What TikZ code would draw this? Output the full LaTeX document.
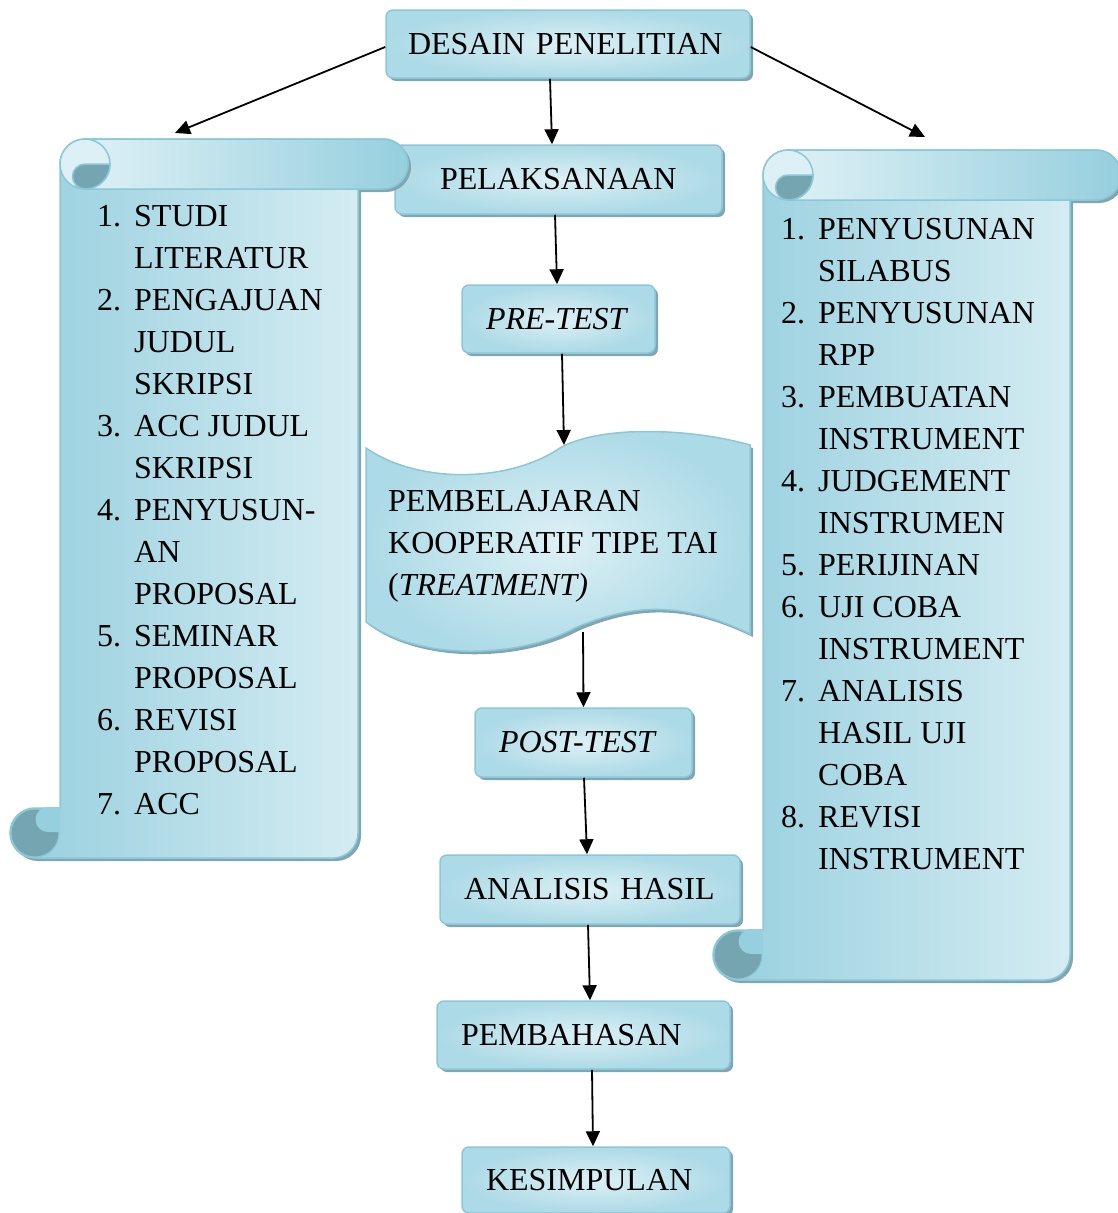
\documentclass[tikz,border=0pt]{standalone}
\usepackage{fontspec}
\setmainfont{Liberation Serif}
\usepackage{xcolor}
\usetikzlibrary{arrows.meta, shadows}
\definecolor{skylt}{RGB}{221,240,245}
\definecolor{skymid}{RGB}{172,218,230}
\definecolor{skydk}{RGB}{150,207,222}
\definecolor{skyline}{RGB}{139,199,215}
\definecolor{curl}{RGB}{116,165,176}
\definecolor{shade}{RGB}{128,166,178}

\newcommand{\bigfont}{\fontsize{32}{42}\selectfont}

% scroll: body left, body right, band top, bottom, band end
\newcommand{\drawscroll}[5]{%
  \draw[scrollline, left color=skydk, right color=skylt, dropshade]
    ({#1+25},{-#3}) -- ({#5-25},{-#3}) arc (90:-90:25) -- ({#2},{-#3-50})
    -- ({#2},{-#4+25}) arc (0:-90:25) -- ({#1-25},{-#4}) arc (-90:-270:25)
    -- ({#1},{-#4+50}) -- ({#1},{-#3-25}) arc (180:90:25) -- cycle;
  \draw[scrollline, left color=skylt, right color=skydk]
    ({#1+25},{-#3}) -- ({#5-25},{-#3}) arc (90:-90:25) -- ({#1+25},{-#3-50}) -- cycle;
  \draw[scrollline, fill=skylt] ({#1+25},{-#3-25}) circle (25);
  \draw[scrollline, fill=curl] ({#1+25},{-#3-25}) -- ({#1+50},{-#3-25})
    arc (0:-90:25) arc (270:90:12.5) -- cycle;
  \filldraw[curl, draw=skyline, line width=1pt] ({#1-25},{-#4+25}) circle (24);
  \fill[skydk] ({#1},{-#4+51}) -- ({#1-12},{-#4+51}) arc (90:270:12.5)
    -- ({#1},{-#4+26}) -- cycle;
}

\begin{document}
\begin{tikzpicture}[
    x=1pt, y=1pt,
    dropshade/.style={drop shadow={shadow xshift=3pt, shadow yshift=-3pt, fill=shade, opacity=1}},
    scrollline/.style={draw=skyline, line width=1.5pt},
    box/.style={rectangle, draw=skyline, line width=1.5pt, rounded corners=7pt, inner color=skylt, outer color=skymid, dropshade, align=left, inner xsep=24pt, inner ysep=0pt, minimum height=68pt, font=\bigfont},
    listtxt/.style={anchor=base west, inner sep=0pt, font=\bigfont},
    arr/.style={-{Triangle[length=15pt,width=14pt]}, line width=1.8pt, black}
]
    \useasboundingbox (0,0) rectangle (1118,-1213);

    % middle column
    \node[box, text width=320pt, inner xsep=22pt] (desain) at (568,-44) {DESAIN PENELITIAN};
    \node[box, text width=237pt, inner xsep=45pt, minimum height=69pt] (pelak) at (558.5,-179.5) {PELAKSANAAN};
    \node[box, text width=145pt] (pre) at (558.5,-319) {\textit{PRE-TEST}};
    \node[box, text width=169pt, minimum height=69pt] (post) at (583.5,-742.5) {\textit{POST-TEST}};
    \node[box, text width=252pt, minimum height=69pt] (analisis) at (590,-889.5) {ANALISIS HASIL};
    \node[box, text width=245pt] (pemb) at (583.5,-1035) {PEMBAHASAN};
    \node[box, text width=220pt, minimum height=66pt] (kes) at (596,-1180) {KESIMPULAN};

    % treatment banner
    \draw[line width=1.5pt, draw=skyline, inner color=skylt, outer color=skymid, dropshade]
        (366,-448) .. controls (420,-485) and (510,-482) .. (560,-448)
        .. controls (600,-425) and (690,-428) .. (750,-445) -- (750,-634)
        .. controls (690,-605) and (640,-600) .. (575,-628)
        .. controls (520,-658) and (420,-662) .. (366,-622) -- cycle;
    \node[listtxt] (treat) at (388,-511) {\begin{tabular}[t]{@{}l@{}}PEMBELAJARAN\\KOOPERATIF TIPE TAI\\(\textit{TREATMENT)}\end{tabular}};

    % scrolls
    \drawscroll{60}{358}{139}{858}{408}
    \drawscroll{763}{1070}{150}{980}{1121}

    \node[listtxt] (persiapan) at (97,-226) {\begin{tabular}[t]{@{}l@{\hspace{13pt}}l@{}}
        1. & STUDI\\ & LITERATUR\\
        2. & PENGAJUAN\\ & JUDUL\\ & SKRIPSI\\
        3. & ACC JUDUL\\ & SKRIPSI\\
        4. & PENYUSUN-\\ & AN\\ & PROPOSAL\\
        5. & SEMINAR\\ & PROPOSAL\\
        6. & REVISI\\ & PROPOSAL\\
        7. & ACC
    \end{tabular}};
    \node[listtxt] (instrumen) at (781,-239) {\begin{tabular}[t]{@{}l@{\hspace{13pt}}l@{}}
        1. & PENYUSUNAN\\ & SILABUS\\
        2. & PENYUSUNAN\\ & RPP\\
        3. & PEMBUATAN\\ & INSTRUMENT\\
        4. & JUDGEMENT\\ & INSTRUMEN\\
        5. & PERIJINAN\\
        6. & UJI COBA\\ & INSTRUMENT\\
        7. & ANALISIS\\ & HASIL UJI\\ & COBA\\
        8. & REVISI\\ & INSTRUMENT
    \end{tabular}};

    \coordinate (lscroll) at (175,-133);
    \coordinate (rscroll) at (925,-137);
    \coordinate (wavetop) at (564,-445);
    \coordinate (wavebot) at (583,-632);

    \draw[arr] ([yshift=-3pt]desain.west) -- (lscroll);
    \draw[arr] ([xshift=-18pt]desain.south) -- ([xshift=-6.5pt]pelak.north);
    \draw[arr] ([yshift=-3pt]desain.east) -- (rscroll);
    \draw[arr] ([xshift=-3.5pt]pelak.south) -- ([xshift=-1.5pt]pre.north);
    \draw[arr] ([xshift=3.5pt]pre.south) -- (wavetop);
    \draw[arr] (wavebot) -- (post.north);
    \draw[arr] ([xshift=0.5pt]post.south) -- ([xshift=-3pt]analisis.north);
    \draw[arr] ([xshift=-2pt]analisis.south) -- ([xshift=6.5pt]pemb.north);
    \draw[arr] ([xshift=8.5pt]pemb.south) -- ([xshift=-3pt]kes.north);
\end{tikzpicture}
\end{document}
